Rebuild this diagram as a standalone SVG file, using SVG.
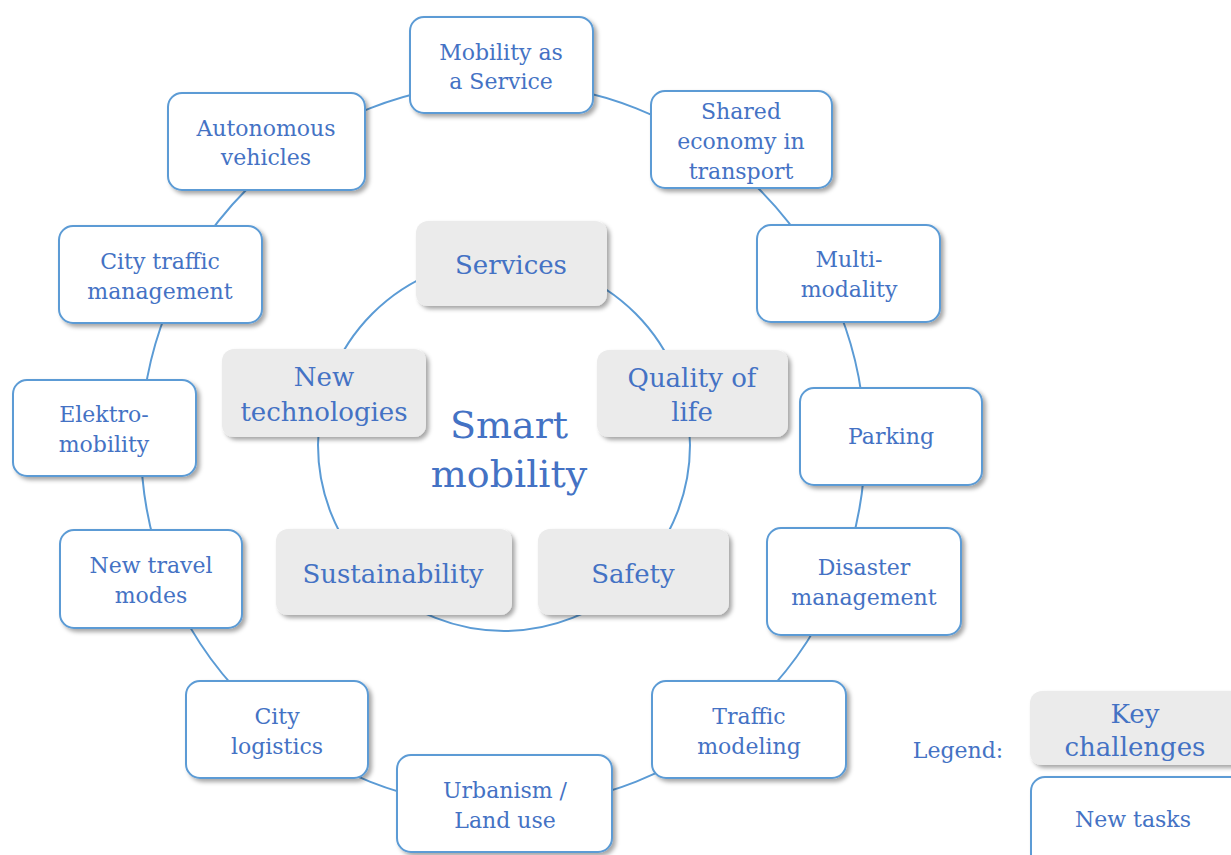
<svg xmlns="http://www.w3.org/2000/svg" width="1231" height="855" viewBox="0 0 1231 855">
  <defs>
    <filter id="shadow" x="-10%" y="-10%" width="130%" height="140%">
      <feDropShadow dx="3" dy="3" stdDeviation="2" flood-color="#000" flood-opacity="0.35"/>
    </filter>
  </defs>
  <style>
    .task rect { fill: #ffffff; stroke: #5b9bd5; stroke-width: 2; filter: url(#shadow); }
    .challenge rect { fill: #ebebeb; stroke: none; filter: url(#shadow); }
    text { font-family: "DejaVu Serif", "Liberation Serif", serif; fill: #4472c4; text-anchor: middle; }
    .task text { font-size: 22px; }
    .challenge text { font-size: 26px; }
    .ring { fill: none; stroke: #5b9bd5; stroke-width: 2; }
  </style>
  <rect width="1231" height="855" fill="#ffffff"/>

  <!-- connecting rings -->
  <g id="connectors">
    <circle class="ring" cx="503" cy="445" r="362"/>
    <circle class="ring" cx="504" cy="445" r="186"/>
  </g>

  <!-- outer ring: new tasks -->
  <g id="maas" class="task">
    <rect x="410" y="17" width="183" height="96" rx="14"/>
    <text x="501" y="60">Mobility as</text>
    <text x="501" y="89">a Service</text>
  </g>
  <g id="shared-economy" class="task">
    <rect x="651" y="91" width="181" height="97" rx="14"/>
    <text x="741" y="119">Shared</text>
    <text x="741" y="149">economy in</text>
    <text x="741" y="179">transport</text>
  </g>
  <g id="multimodality" class="task">
    <rect x="757" y="225" width="183" height="97" rx="14"/>
    <text x="849" y="267">Multi-</text>
    <text x="849" y="297">modality</text>
  </g>
  <g id="parking" class="task">
    <rect x="800" y="388" width="182" height="97" rx="14"/>
    <text x="891" y="444">Parking</text>
  </g>
  <g id="disaster-management" class="task">
    <rect x="767" y="528" width="194" height="107" rx="14"/>
    <text x="864" y="575">Disaster</text>
    <text x="864" y="605">management</text>
  </g>
  <g id="traffic-modeling" class="task">
    <rect x="652" y="681" width="194" height="97" rx="14"/>
    <text x="749" y="724">Traffic</text>
    <text x="749" y="754">modeling</text>
  </g>
  <g id="urbanism" class="task">
    <rect x="397" y="755" width="215" height="97" rx="14"/>
    <text x="505" y="798">Urbanism /</text>
    <text x="505" y="828">Land use</text>
  </g>
  <g id="city-logistics" class="task">
    <rect x="186" y="681" width="182" height="97" rx="14"/>
    <text x="277" y="724">City</text>
    <text x="277" y="754">logistics</text>
  </g>
  <g id="new-travel-modes" class="task">
    <rect x="60" y="530" width="182" height="98" rx="14"/>
    <text x="151" y="573">New travel</text>
    <text x="151" y="603">modes</text>
  </g>
  <g id="elektromobility" class="task">
    <rect x="13" y="380" width="183" height="96" rx="14"/>
    <text x="104" y="422">Elektro-</text>
    <text x="104" y="452">mobility</text>
  </g>
  <g id="city-traffic" class="task">
    <rect x="59" y="226" width="203" height="97" rx="14"/>
    <text x="160" y="269">City traffic</text>
    <text x="160" y="299">management</text>
  </g>
  <g id="autonomous" class="task">
    <rect x="168" y="93" width="197" height="97" rx="14"/>
    <text x="266" y="136">Autonomous</text>
    <text x="266" y="165">vehicles</text>
  </g>

  <!-- inner ring: key challenges -->
  <g id="services" class="challenge">
    <rect x="416" y="221" width="191" height="85" rx="12"/>
    <text x="511" y="274">Services</text>
  </g>
  <g id="quality-of-life" class="challenge">
    <rect x="597" y="350" width="191" height="87" rx="12"/>
    <text x="692" y="387">Quality of</text>
    <text x="692" y="421">life</text>
  </g>
  <g id="safety" class="challenge">
    <rect x="538" y="529" width="191" height="86" rx="12"/>
    <text x="633" y="583">Safety</text>
  </g>
  <g id="sustainability" class="challenge">
    <rect x="276" y="529" width="236" height="86" rx="12"/>
    <text x="393" y="583">Sustainability</text>
  </g>
  <g id="new-technologies" class="challenge">
    <rect x="222" y="349" width="204" height="88" rx="12"/>
    <text x="324" y="386">New</text>
    <text x="324" y="421">technologies</text>
  </g>

  <!-- centre title -->
  <g id="smart-mobility">
    <text x="509" y="438" font-size="38">Smart</text>
    <text x="509" y="487" font-size="38">mobility</text>
  </g>

  <!-- legend -->
  <g id="legend">
    <text x="958" y="758" font-size="22">Legend:</text>
    <g id="legend-challenge" class="challenge">
      <rect x="1030" y="691" width="215" height="74" rx="12"/>
      <text x="1135" y="723">Key</text>
      <text x="1135" y="756">challenges</text>
    </g>
    <g id="legend-task" class="task">
      <rect x="1031" y="777" width="215" height="95" rx="14"/>
      <text x="1133" y="827">New tasks</text>
    </g>
  </g>
</svg>
